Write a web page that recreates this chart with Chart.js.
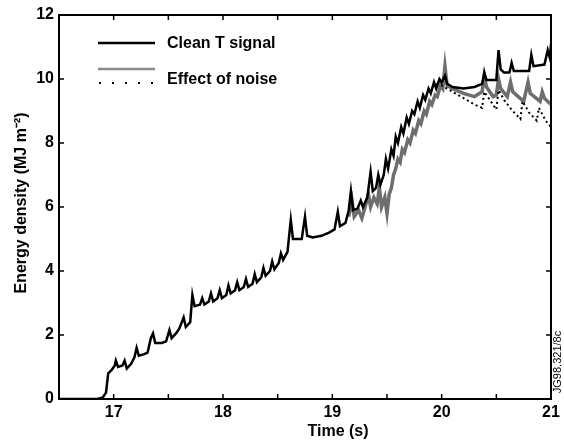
<!DOCTYPE html>
<html>
<head>
<meta charset="utf-8">
<script src="https://cdn.jsdelivr.net/npm/chart.js@4.4.1/dist/chart.umd.min.js"></script>
<style>
  body { margin: 0; background: #fff; }
  canvas { display: block; }
</style>
</head>
<body>
<canvas id="myChart" width="564" height="442"></canvas>
<script>
// Clean T signal
const cleanTime = [16.50, 16.85, 16.90, 16.93, 16.95, 16.98, 17.01, 17.02, 17.04, 17.08, 17.10, 17.12, 17.16, 17.19, 17.21, 17.23,
  17.28, 17.31, 17.34, 17.36, 17.38, 17.44, 17.48, 17.51, 17.53, 17.57, 17.60, 17.64, 17.66, 17.70, 17.72, 17.74,
  17.79, 17.81, 17.83, 17.87, 17.89, 17.91, 17.95, 17.97, 17.99, 18.03, 18.05, 18.07, 18.11, 18.13, 18.15, 18.19,
  18.21, 18.23, 18.27, 18.29, 18.31, 18.35, 18.37, 18.39, 18.43, 18.45, 18.47, 18.51, 18.53, 18.55, 18.59, 18.62,
  18.64, 18.68, 18.72, 18.75, 18.77, 18.82, 18.90, 18.97, 19.02, 19.05, 19.07, 19.12, 19.15, 19.17, 19.19, 19.23,
  19.26, 19.28, 19.32, 19.35, 19.37, 19.40, 19.42, 19.44, 19.47, 19.49, 19.51, 19.54, 19.56, 19.58, 19.60, 19.63,
  19.65, 19.68, 19.70, 19.73, 19.75, 19.78, 19.80, 19.83, 19.85, 19.88, 19.90, 19.93, 19.95, 19.98, 20.00, 20.03,
  20.05, 20.10, 20.20, 20.30, 20.37, 20.39, 20.41, 20.50, 20.52, 20.54, 20.57, 20.62, 20.64, 20.66, 20.80, 20.82,
  20.84, 20.94, 20.97, 20.99, 21.00];
const cleanEnergy = [0, 0, 0.05, 0.2, 0.8, 0.9, 1.05, 1.2, 1.0, 1.05, 1.2, 0.95, 1.1, 1.3, 1.6, 1.35,
  1.4, 1.45, 1.9, 2.05, 1.75, 1.75, 1.8, 2.15, 1.9, 2.05, 2.2, 2.55, 2.25, 2.4, 3.25, 2.9,
  2.95, 3.15, 2.95, 3.05, 3.3, 3.05, 3.15, 3.4, 3.15, 3.25, 3.55, 3.3, 3.4, 3.65, 3.4, 3.5,
  3.75, 3.5, 3.6, 3.9, 3.65, 3.8, 4.1, 3.85, 4.0, 4.3, 4.05, 4.25, 4.55, 4.35, 4.6, 5.6,
  5.0, 5.0, 5.0, 5.7, 5.1, 5.05, 5.1, 5.2, 5.3, 5.85, 5.4, 5.5, 5.9, 6.5, 5.9, 5.95,
  6.2, 6.0, 6.3, 7.1, 6.5, 6.6, 7.0, 6.7, 7.0, 7.5, 7.2, 7.8, 7.6, 8.2, 8.0, 8.5,
  8.3, 8.8, 8.6, 9.0, 8.9, 9.3, 9.1, 9.5, 9.35, 9.7, 9.55, 9.9, 9.7, 10.0, 9.9, 10.1,
  9.85, 9.75, 9.7, 9.75, 9.85, 10.2, 9.97, 9.97, 10.9, 10.3, 10.2, 10.2, 10.5, 10.25, 10.25, 10.75,
  10.4, 10.45, 10.9, 10.65, 11.1];

// Effect of noise: grey band
const noiseTime = [19.15, 19.18, 19.20, 19.24, 19.27, 19.30, 19.33, 19.35, 19.38, 19.41, 19.43, 19.45, 19.48, 19.50, 19.52, 19.54,
  19.56, 19.58, 19.60, 19.62, 19.64, 19.66, 19.69, 19.71, 19.74, 19.76, 19.79, 19.81, 19.84, 19.86, 19.89, 19.91,
  19.94, 19.96, 19.99, 20.01, 20.03, 20.05, 20.10, 20.20, 20.30, 20.37, 20.39, 20.41, 20.47, 20.50, 20.52, 20.54,
  20.60, 20.63, 20.65, 20.75, 20.79, 20.81, 20.90, 20.92, 20.94, 21.00];
const noiseEnergy = [5.7, 6.2, 5.7, 5.9, 5.65, 6.0, 6.4, 6.0, 6.3, 6.1, 6.6, 6.0, 6.3, 5.8, 6.4, 6.6,
  7.0, 7.2, 7.5, 7.4, 7.8, 7.7, 8.1, 8.0, 8.4, 8.3, 8.7, 8.6, 9.0, 8.9, 9.3, 9.2,
  9.5, 9.45, 9.8, 9.7, 10.4, 9.8, 9.7, 9.55, 9.45, 9.6, 10.1, 9.75, 9.45, 9.5, 10.0, 9.7,
  9.45, 9.9, 9.6, 9.3, 9.9, 9.55, 9.3, 9.6, 9.4, 9.2];

// Effect of noise: dotted trace
const dotTime = [19.95, 20.00, 20.10, 20.20, 20.30, 20.37, 20.39, 20.45, 20.50, 20.52, 20.58, 20.65, 20.72, 20.74, 20.80, 20.87,
  20.89, 20.95, 21.00];
const dotEnergy = [9.85, 9.8, 9.6, 9.4, 9.2, 9.1, 9.6, 9.3, 9.05, 9.65, 9.3, 9.0, 8.75, 9.3, 8.95, 8.7,
  9.1, 8.7, 8.5];

const xTicks = [17, 18, 19, 20, 21];
const yTicks = [0, 2, 4, 6, 8, 10, 12];

const fam = "'Liberation Sans Narrow', 'Liberation Sans', Arial, sans-serif";

function toPoints(xs, ys) {
  return xs.map((t, i) => ({ x: t, y: ys[i] }));
}

const frame = {
  id: 'frame',
  afterDraw(chart) {
    const { ctx, chartArea: a, scales: { x, y } } = chart;
    ctx.save();
    ctx.strokeStyle = '#000';
    ctx.lineWidth = 2;
    ctx.strokeRect(a.left, a.top, a.right - a.left, a.bottom - a.top);

    // inward ticks on all four sides
    ctx.beginPath();
    x.ticks.forEach(t => {
      const px = x.getPixelForValue(t.value);
      ctx.moveTo(px, a.bottom); ctx.lineTo(px, a.bottom - 5);
      ctx.moveTo(px, a.top); ctx.lineTo(px, a.top + 5);
    });
    y.ticks.forEach(t => {
      const py = y.getPixelForValue(t.value);
      ctx.moveTo(a.left, py); ctx.lineTo(a.left + 5, py);
      ctx.moveTo(a.right, py); ctx.lineTo(a.right - 5, py);
    });
    ctx.lineWidth = 1.5;
    ctx.stroke();

    // legend
    ctx.lineWidth = 2.5;
    ctx.beginPath(); ctx.moveTo(98, 43); ctx.lineTo(155, 43); ctx.stroke();
    ctx.strokeStyle = '#8a8a8a';
    ctx.lineWidth = 2.5;
    ctx.beginPath(); ctx.moveTo(98, 69); ctx.lineTo(155, 69); ctx.stroke();
    ctx.strokeStyle = '#000';
    ctx.lineWidth = 2;
    ctx.setLineDash([2, 11]);
    ctx.beginPath(); ctx.moveTo(99, 83); ctx.lineTo(156, 83); ctx.stroke();
    ctx.setLineDash([]);

    ctx.fillStyle = '#000';
    ctx.font = 'bold 16px ' + fam;
    ctx.textBaseline = 'middle';
    ctx.textAlign = 'left';
    ctx.fillText('Clean T signal', 167, 44);
    ctx.fillText('Effect of noise', 167, 80);

    // axis titles
    ctx.textAlign = 'center';
    ctx.fillText('Time (s)', 338, 432);
    ctx.save();
    ctx.translate(22, 203);
    ctx.rotate(-Math.PI / 2);
    ctx.fillText('Energy density (MJ m\u207B\u00B2)', 0, 0);
    ctx.restore();

    // figure reference at right edge
    ctx.save();
    ctx.font = '11px ' + fam;
    ctx.translate(558, 362);
    ctx.rotate(-Math.PI / 2);
    ctx.fillText('JG98.321/8c', 0, 0);
    ctx.restore();

    ctx.restore();
  }
};

new Chart(document.getElementById('myChart'), {
  type: 'line',
  data: {
    datasets: [{
      label: 'Clean T signal',
      data: toPoints(cleanTime, cleanEnergy),
      borderColor: '#000',
      borderWidth: 2.5,
      pointRadius: 0,
      tension: 0
    }, {
      label: 'Effect of noise',
      data: toPoints(dotTime, dotEnergy),
      borderColor: '#000',
      borderWidth: 2,
      borderDash: [2, 3],
      pointRadius: 0,
      tension: 0
    }, {
      label: 'Effect of noise (band)',
      data: toPoints(noiseTime, noiseEnergy),
      borderColor: '#6e6e6e',
      borderWidth: 3.5,
      pointRadius: 0,
      tension: 0
    }]
  },
  options: {
    responsive: false,
    animation: false,
    layout: { padding: { left: 0, right: 13, top: 15, bottom: 0 } },
    plugins: { legend: { display: false }, tooltip: { enabled: false } },
    scales: {
      x: {
        type: 'linear',
        min: 16.5,
        max: 21,
        grid: { display: false, drawTicks: false },
        border: { display: false },
        afterFit(scale) { scale.height = 43; },
        ticks: {
          stepSize: 0.5,
          padding: 4,
          color: '#000',
          font: { family: fam, size: 16, weight: 'bold' },
          maxRotation: 0,
          autoSkip: false,
          callback: v => xTicks.includes(v) ? v : ''
        }
      },
      y: {
        min: 0,
        max: 12,
        grid: { display: false, drawTicks: false },
        border: { display: false },
        afterFit(scale) { scale.width = 59; },
        ticks: {
          stepSize: 2,
          padding: 5,
          color: '#000',
          font: { family: fam, size: 16, weight: 'bold' },
          callback: v => yTicks.includes(v) ? v : ''
        }
      }
    }
  },
  plugins: [frame]
});
</script>
</body>
</html>
